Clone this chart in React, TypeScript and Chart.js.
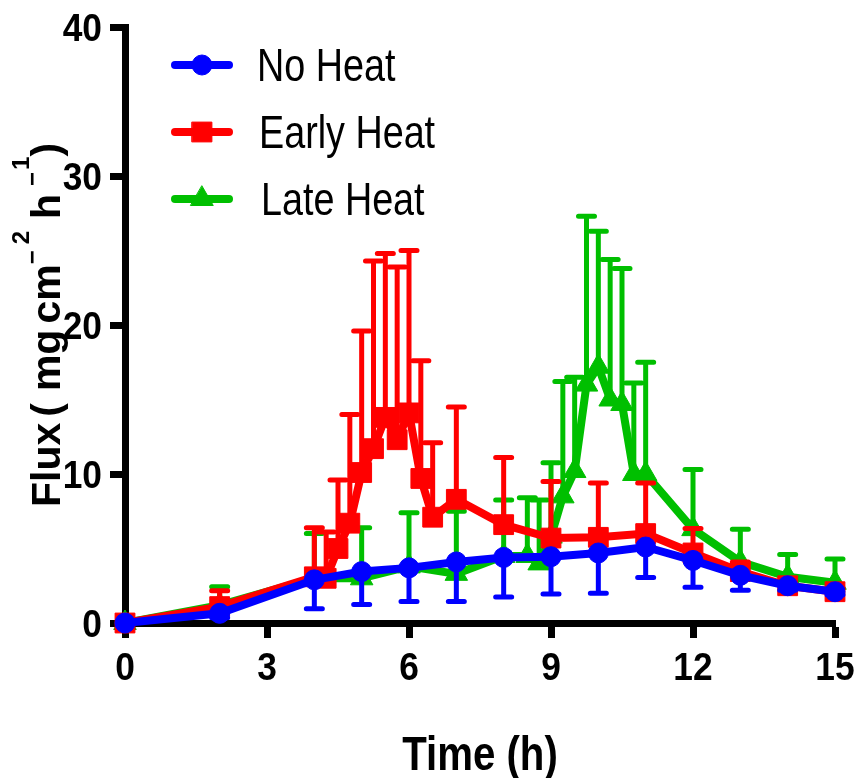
import React, { useEffect, useRef } from "react";
import { Chart, registerables } from "chart.js";
import { drawPoint } from "chart.js/helpers";

Chart.register(...registerables);

// ---- Data ----
const noHeatTime = [0, 2, 4, 5, 6, 7, 8, 9, 10, 11, 12, 13, 14, 15];
const noHeatFlux = [0, 0.65, 2.9, 3.45, 3.7, 4.1, 4.4, 4.45, 4.7, 5.1, 4.2, 3.2, 2.5, 2.1];
const noHeatSD = [0, 0.3, 1.95, 2.2, 2.25, 2.65, 2.65, 2.5, 2.7, 2.05, 1.8, 1.0, 0.3, 0.2];

const earlyTime = [0, 2, 4, 4.25, 4.5, 4.75, 5, 5.25, 5.5, 5.75, 6, 6.25, 6.5, 7, 8, 9, 10, 11, 12, 13, 14, 15];
const earlyFlux = [0, 1.1, 3.1, 3.0, 5.0, 6.7, 10.1, 11.7, 13.8, 12.3, 14.1, 9.7, 7.1, 8.3, 6.6, 5.7, 5.75, 6.0, 4.7, 3.45, 2.5, 2.1];
const earlySD = [0, 1.07, 3.3, 3.1, 4.6, 7.3, 9.5, 12.6, 11.0, 11.6, 10.9, 7.9, 5.0, 6.2, 4.5, 3.8, 3.65, 3.4, 1.65, 0.65, 0.3, 0.2];

const lateTime = [0, 2, 4, 5, 6, 7, 8, 8.5, 8.75, 9, 9.25, 9.5, 9.75, 10, 10.25, 10.5, 10.75, 11, 12, 13, 14, 15];
const lateFlux = [0, 1.2, 3.0, 3.0, 3.8, 3.3, 4.5, 4.5, 4.0, 5.8, 8.5, 10.2, 16.0, 17.2, 15.0, 14.7, 10.0, 10.0, 6.3, 4.1, 3.1, 2.7];
const lateSD = [0, 1.23, 3.0, 3.4, 3.6, 4.2, 3.76, 3.9, 4.26, 4.96, 7.7, 6.3, 11.3, 9.1, 9.4, 9.1, 6.1, 7.5, 4.0, 2.2, 1.5, 1.6];

const seriesLabels = ["No Heat", "Early Heat", "Late Heat"];
const xTitle = "Time (h)";
// y title pieces: text, superscript flag, gap after (px)
const yTitleParts: { t: string; sup: boolean; gap: number }[] = [
  { t: "Flux", sup: false, gap: 6 },
  { t: "(", sup: false, gap: 12 },
  { t: "mg", sup: false, gap: 6 },
  { t: "cm", sup: false, gap: 0 },
  { t: "\u2212", sup: true, gap: 6 },
  { t: "2", sup: true, gap: 12 },
  { t: "h", sup: false, gap: 8 },
  { t: "\u2212", sup: true, gap: 2 },
  { t: "1", sup: true, gap: 0 },
  { t: ")", sup: false, gap: 0 },
];

const BLUE = "#0000FF";
const RED = "#FF0000";
const GREEN = "#00BF00";

const SANS = '"Liberation Sans", Arial, sans-serif';
const NARROW_X = 0.82; // horizontal condensing of legend / x title text
const TICK_X = 0.93; // condensing of tick labels

const errorSpec = [
  { sd: noHeatSD, dir: -1 },
  { sd: earlySD, dir: 1 },
  { sd: lateSD, dir: 1 },
];

const toPoints = (xs: number[], ys: number[]) => xs.map((x, i) => ({ x, y: ys[i] }));

function fillScaled(
  ctx: CanvasRenderingContext2D,
  text: string,
  x: number,
  y: number,
  font: string,
  align: "left" | "center" | "right",
  sx: number
) {
  ctx.save();
  ctx.font = font;
  ctx.textAlign = "left";
  ctx.textBaseline = "alphabetic";
  ctx.translate(x, y);
  ctx.scale(sx, 1);
  const w = ctx.measureText(text).width;
  const dx = align === "center" ? -w / 2 : align === "right" ? -w : 0;
  ctx.fillText(text, dx, 0);
  ctx.restore();
}

const errorBarPlugin = {
  id: "errorBars",
  beforeDatasetDraw(chart: any, args: any) {
    const spec = errorSpec[args.index];
    if (!spec) return;
    const ds = chart.data.datasets[args.index];
    const ys = chart.scales.y;
    const ctx = chart.ctx;
    ctx.save();
    ctx.strokeStyle = ds.borderColor;
    ctx.lineWidth = 5;
    ctx.lineCap = "round";
    args.meta.data.forEach((pt: any, i: number) => {
      const e = spec.sd[i];
      if (!e) return;
      const v = ds.data[i].y;
      const yEnd = ys.getPixelForValue(v + spec.dir * e);
      ctx.beginPath();
      ctx.moveTo(pt.x, pt.y);
      ctx.lineTo(pt.x, yEnd);
      ctx.moveTo(pt.x - 8, yEnd);
      ctx.lineTo(pt.x + 8, yEnd);
      ctx.stroke();
    });
    ctx.restore();
  },
};

const legendPlugin = {
  id: "lineLegend",
  afterDatasetsDraw(chart: any) {
    const ctx = chart.ctx;
    const { left, top } = chart.chartArea;
    chart.data.datasets.forEach((ds: any, i: number) => {
      const cy = top + 38 + i * 67;
      ctx.save();
      ctx.strokeStyle = ds.borderColor;
      ctx.lineWidth = 8;
      ctx.lineCap = "round";
      ctx.beginPath();
      ctx.moveTo(left + 50, cy);
      ctx.lineTo(left + 104, cy);
      ctx.stroke();
      ctx.fillStyle = ds.pointBackgroundColor;
      ctx.strokeStyle = ds.pointBorderColor;
      ctx.lineWidth = 1;
      drawPoint(ctx, { pointStyle: ds.pointStyle, radius: ds.pointRadius, rotation: 0, borderWidth: 1 }, left + 77, cy);
      ctx.fillStyle = "#000";
      fillScaled(ctx, ds.label, left + 132 + i * 2, cy + 16, `46px ${SANS}`, "left", NARROW_X);
      ctx.restore();
    });
  },
};

const tickLabelPlugin = {
  id: "tickLabels",
  afterDraw(chart: any) {
    const ctx = chart.ctx;
    const { left, bottom } = chart.chartArea;
    const xs = chart.scales.x;
    const ys = chart.scales.y;
    const font = `bold 38px ${SANS}`;
    ctx.save();
    ctx.fillStyle = "#000";
    ys.ticks.forEach((t: any) => {
      const py = ys.getPixelForValue(t.value);
      fillScaled(ctx, t.label ?? String(t.value), left - 23, py + 13.5, font, "right", TICK_X);
    });
    xs.ticks.forEach((t: any) => {
      const px = xs.getPixelForValue(t.value);
      fillScaled(ctx, t.label ?? String(t.value), px, bottom + 57, font, "center", TICK_X);
    });
    ctx.restore();
  },
};

const titlesPlugin = {
  id: "axisTitles",
  afterDraw(chart: any) {
    const ctx = chart.ctx;
    const { left, right, top, bottom } = chart.chartArea;
    ctx.save();
    ctx.fillStyle = "#000";
    // x title
    fillScaled(ctx, xTitle, (left + right) / 2, bottom + 147, `bold 49px ${SANS}`, "center", NARROW_X);
    // y title, rotated and centred on the axis
    const mainFont = `bold 41px ${SANS}`;
    const supFont = `bold 24px ${SANS}`;
    let total = 0;
    yTitleParts.forEach((p) => {
      ctx.font = p.sup ? supFont : mainFont;
      total += ctx.measureText(p.t).width + p.gap;
    });
    ctx.translate(60, (top + bottom) / 2 + total / 2);
    ctx.rotate(-Math.PI / 2);
    ctx.textBaseline = "alphabetic";
    ctx.textAlign = "left";
    let x = 0;
    yTitleParts.forEach((p) => {
      ctx.font = p.sup ? supFont : mainFont;
      const dy = p.sup ? (p.t === "\u2212" ? -20 : -31) : 0;
      ctx.fillText(p.t, x, dy);
      x += ctx.measureText(p.t).width + p.gap;
    });
    ctx.restore();
  },
};

export default function App() {
  const canvasRef = useRef<HTMLCanvasElement | null>(null);

  useEffect(() => {
    if (!canvasRef.current) return;
    const chart = new Chart(canvasRef.current, {
      type: "line",
      data: {
        datasets: [
          {
            label: seriesLabels[0],
            data: toPoints(noHeatTime, noHeatFlux),
            borderColor: BLUE,
            backgroundColor: BLUE,
            pointBackgroundColor: BLUE,
            pointBorderColor: BLUE,
            pointStyle: "circle",
            pointRadius: 10,
            pointBorderWidth: 1,
            borderWidth: 8,
            tension: 0,
            clip: false,
          },
          {
            label: seriesLabels[1],
            data: toPoints(earlyTime, earlyFlux),
            borderColor: RED,
            backgroundColor: RED,
            pointBackgroundColor: RED,
            pointBorderColor: RED,
            pointStyle: "rect",
            pointRadius: 14,
            pointBorderWidth: 1,
            borderWidth: 8,
            tension: 0,
            clip: false,
          },
          {
            label: seriesLabels[2],
            data: toPoints(lateTime, lateFlux),
            borderColor: GREEN,
            backgroundColor: GREEN,
            pointBackgroundColor: GREEN,
            pointBorderColor: GREEN,
            pointStyle: "triangle",
            pointRadius: 13,
            pointBorderWidth: 1,
            borderWidth: 8,
            tension: 0,
            clip: false,
          },
        ] as any,
      },
      options: {
        animation: false,
        responsive: true,
        maintainAspectRatio: false,
        layout: { padding: { left: 0, right: 21, top: 27, bottom: 0 } },
        plugins: {
          legend: { display: false },
          tooltip: { enabled: false },
        },
        scales: {
          x: {
            type: "linear",
            min: 0,
            max: 15,
            ticks: { stepSize: 3, display: false },
            grid: { drawOnChartArea: false, drawTicks: true, tickLength: 15, tickWidth: 7, tickColor: "#000" },
            border: { display: true, color: "#000", width: 7 },
            title: { display: false },
            afterFit: (s: any) => {
              s.height = 155;
            },
          },
          y: {
            type: "linear",
            min: 0,
            max: 40,
            ticks: { stepSize: 10, display: false },
            grid: { drawOnChartArea: false, drawTicks: true, tickLength: 15, tickWidth: 7, tickColor: "#000" },
            border: { display: true, color: "#000", width: 7 },
            title: { display: false },
            afterFit: (s: any) => {
              s.width = 125;
            },
          },
        },
      } as any,
      plugins: [errorBarPlugin, legendPlugin, tickLabelPlugin, titlesPlugin],
    });
    return () => chart.destroy();
  }, []);

  return (
    <div style={{ position: "absolute", left: 0, top: 0, width: 856, height: 778 }}>
      <canvas ref={canvasRef} />
    </div>
  );
}
